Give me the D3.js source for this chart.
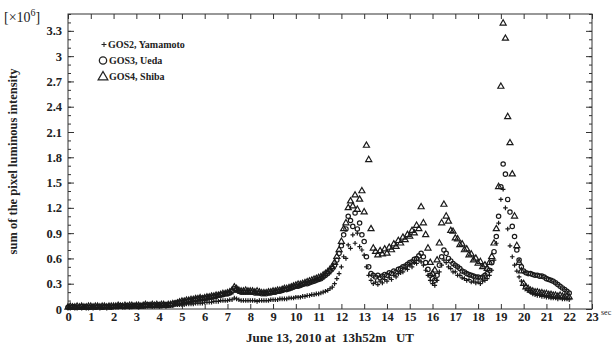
<!doctype html>
<html lang="en">
<head>
<meta charset="utf-8">
<title>Luminous intensity, June 13 2010</title>
<script src="https://d3js.org/d3.v7.min.js"></script>
<style>
body { margin: 0; background: #fff; }
svg { display: block; }
text { font-family: 'Liberation Serif', 'DejaVu Serif', serif; fill: #222; }
.tick text { font-size: 12.5px; font-weight: bold; }
.tick line { stroke: #333; stroke-width: 1; }
.frame { fill: none; stroke: #333; stroke-width: 1; }
.pt { fill: none; stroke: #1a1a1a; stroke-width: 1.2; }
.legend text { font-size: 10px; font-weight: bold; }
.label { font-size: 12.5px; font-weight: bold; }
</style>
</head>
<body>
<svg width="615" height="348"></svg>
<script>
// samples every 0.1 s from 0 to 22 s
const sampleStep = 0.1;

// GOS2, Yamamoto (+)
const gos2 = [
  0.01,0.01,0.02,0.01,0.01,0.02,0.01,0.02,0.01,0.01,
  0.02,0.01,0.02,0.02,0.01,0.02,0.02,0.01,0.02,0.02,
  0.02,0.02,0.02,0.03,0.02,0.02,0.03,0.02,0.03,0.03,
  0.03,0.02,0.03,0.03,0.03,0.03,0.04,0.03,0.03,0.04,
  0.03,0.04,0.04,0.03,0.04,0.04,0.04,0.05,0.05,0.05,
  0.05,0.05,0.06,0.06,0.06,0.06,0.07,0.07,0.07,0.07,
  0.08,0.08,0.08,0.08,0.09,0.09,0.09,0.10,0.10,0.10,
  0.10,0.11,0.11,0.13,0.12,0.11,0.10,0.10,0.10,0.10,
  0.10,0.10,0.10,0.09,0.10,0.10,0.10,0.10,0.10,0.11,
  0.11,0.11,0.11,0.12,0.12,0.12,0.12,0.13,0.13,0.13,
  0.14,0.14,0.14,0.15,0.15,0.16,0.16,0.17,0.17,0.18,
  0.18,0.19,0.20,0.21,0.22,0.24,0.26,0.30,0.36,0.42,
  0.50,0.62,0.60,0.76,0.72,0.88,0.78,0.90,0.74,0.70,
  0.64,0.50,0.40,0.34,0.30,0.32,0.29,0.33,0.31,0.35,
  0.33,0.37,0.35,0.40,0.38,0.42,0.43,0.44,0.48,0.47,
  0.52,0.50,0.55,0.54,0.58,0.56,0.52,0.46,0.40,0.34,
  0.30,0.28,0.34,0.44,0.52,0.58,0.55,0.50,0.48,0.44,
  0.44,0.40,0.40,0.37,0.36,0.34,0.35,0.32,0.33,0.31,
  0.32,0.30,0.33,0.34,0.36,0.40,0.46,0.58,0.78,1.02,
  1.30,1.42,1.20,0.95,0.75,0.62,0.52,0.45,0.38,0.33,
  0.28,0.24,0.22,0.20,0.18,0.17,0.16,0.16,0.15,0.15,
  0.14,0.14,0.13,0.13,0.13,0.12,0.13,0.12,0.12,0.12,
  0.11
];

// GOS3, Ueda (circle)
const gos3 = [
  0.02,0.02,0.03,0.02,0.02,0.02,0.03,0.02,0.03,0.02,
  0.02,0.03,0.02,0.03,0.03,0.02,0.03,0.03,0.03,0.02,
  0.03,0.03,0.03,0.04,0.03,0.03,0.04,0.03,0.03,0.04,
  0.04,0.03,0.04,0.04,0.04,0.05,0.04,0.04,0.05,0.04,
  0.05,0.04,0.05,0.05,0.05,0.05,0.06,0.07,0.07,0.08,
  0.08,0.09,0.09,0.10,0.10,0.11,0.11,0.12,0.12,0.13,
  0.13,0.13,0.14,0.14,0.15,0.15,0.16,0.17,0.17,0.18,
  0.18,0.19,0.21,0.24,0.23,0.21,0.20,0.20,0.20,0.20,
  0.20,0.20,0.19,0.19,0.19,0.18,0.18,0.18,0.19,0.19,
  0.20,0.20,0.21,0.21,0.22,0.23,0.23,0.24,0.25,0.26,
  0.27,0.27,0.28,0.29,0.30,0.30,0.31,0.32,0.33,0.34,
  0.35,0.36,0.38,0.40,0.42,0.45,0.48,0.52,0.58,0.66,
  0.75,0.88,0.95,1.10,1.05,0.98,1.14,0.95,1.02,0.88,
  0.80,0.62,0.50,0.42,0.40,0.38,0.40,0.37,0.39,0.41,
  0.40,0.43,0.42,0.45,0.44,0.47,0.48,0.50,0.51,0.53,
  0.55,0.56,0.59,0.60,0.63,0.66,0.62,0.55,0.47,0.40,
  0.36,0.34,0.40,0.52,0.62,0.70,0.66,0.60,0.57,0.54,
  0.52,0.50,0.48,0.45,0.44,0.42,0.41,0.40,0.39,0.38,
  0.38,0.37,0.38,0.40,0.42,0.46,0.55,0.68,0.86,1.10,
  1.45,1.72,1.60,1.30,1.15,0.98,0.86,0.70,0.58,0.50,
  0.45,0.43,0.42,0.42,0.41,0.40,0.40,0.39,0.39,0.38,
  0.36,0.35,0.34,0.33,0.31,0.29,0.27,0.25,0.23,0.21,
  0.19
];

// GOS4, Shiba (triangle)
const gos4 = [
  0.02,0.03,0.02,0.02,0.03,0.02,0.03,0.02,0.02,0.03,
  0.03,0.02,0.03,0.03,0.02,0.03,0.03,0.02,0.03,0.03,
  0.03,0.03,0.04,0.03,0.03,0.04,0.03,0.04,0.04,0.03,
  0.04,0.04,0.03,0.04,0.05,0.04,0.04,0.05,0.04,0.05,
  0.04,0.05,0.05,0.04,0.05,0.05,0.06,0.06,0.07,0.08,
  0.09,0.09,0.10,0.10,0.11,0.11,0.12,0.12,0.13,0.12,
  0.13,0.14,0.14,0.15,0.15,0.16,0.16,0.17,0.18,0.18,
  0.19,0.20,0.22,0.26,0.24,0.22,0.21,0.21,0.22,0.21,
  0.21,0.21,0.20,0.21,0.20,0.19,0.19,0.19,0.20,0.20,
  0.21,0.21,0.22,0.22,0.23,0.24,0.24,0.25,0.26,0.27,
  0.28,0.29,0.29,0.30,0.31,0.32,0.33,0.34,0.35,0.36,
  0.37,0.38,0.40,0.42,0.44,0.47,0.50,0.55,0.62,0.70,
  0.80,0.95,1.02,1.20,1.28,1.22,1.35,1.18,1.30,1.40,
  1.15,1.94,1.77,0.95,0.72,0.68,0.64,0.69,0.65,0.71,
  0.66,0.73,0.70,0.77,0.74,0.81,0.78,0.85,0.82,0.88,
  0.86,0.93,0.90,0.99,0.95,1.21,1.02,0.88,0.72,0.55,
  0.42,0.46,0.58,0.78,1.02,1.24,1.10,1.04,0.93,0.92,
  0.84,0.83,0.76,0.77,0.70,0.71,0.64,0.65,0.58,0.60,
  0.54,0.56,0.50,0.52,0.48,0.55,0.62,0.78,0.95,1.45,
  2.64,3.39,3.21,2.28,1.97,1.60,1.10,0.75,0.55,0.45,
  0.30,0.26,0.24,0.22,0.21,0.20,0.20,0.19,0.19,0.18,
  0.18,0.17,0.17,0.16,0.16,0.15,0.16,0.15,0.14,0.15,
  0.14
];

const xTicks = [0,1,2,3,4,5,6,7,8,9,10,11,12,13,14,15,16,17,18,19,20,21,22,23];
const yTicks = [0,0.3,0.6,0.9,1.2,1.5,1.8,2.1,2.4,2.7,3,3.3];
const yTickLabels = ['0','0.3','0.6','0.9','1.2','1.5','1.8','2.1','2.4','2.7','3','3.3'];
const yMinor = [0,0.1,0.2,0.3,0.4,0.5,0.6,0.7,0.8,0.9,1,1.1,1.2,1.3,1.4,1.5,1.6,1.7,1.8,1.9,
  2,2.1,2.2,2.3,2.4,2.5,2.6,2.7,2.8,2.9,3,3.1,3.2,3.3,3.4,3.5];
const seriesNames = ['GOS2, Yamamoto', 'GOS3, Ueda', 'GOS4, Shiba'];

const svg = d3.select('svg');
const plotLeft = 68, plotRight = 592, plotTop = 14, plotBottom = 309;

const x = d3.scaleLinear().domain([0, 23]).range([plotLeft, plotRight]);
const y = d3.scaleLinear().domain([0, 3.5]).range([plotBottom, plotTop]);

// axes (ticks drawn inward)
svg.append('g')
  .attr('transform', `translate(${plotLeft},0)`)
  .call(d3.axisLeft(y).tickValues(yMinor).tickSize(-3).tickFormat(''))
  .call(g => g.select('.domain').remove());
svg.append('g')
  .attr('transform', `translate(${plotLeft},0)`)
  .call(d3.axisLeft(y).tickValues(yTicks).tickSize(-6).tickPadding(6)
    .tickFormat((d, i) => yTickLabels[i]))
  .call(g => g.select('.domain').remove());
svg.append('g')
  .attr('transform', `translate(${plotRight},0)`)
  .call(d3.axisRight(y).tickValues(yMinor).tickSize(-3).tickFormat(''))
  .call(g => g.select('.domain').remove());
svg.append('g')
  .attr('transform', `translate(${plotRight},0)`)
  .call(d3.axisRight(y).tickValues(yTicks).tickSize(-6).tickFormat(''))
  .call(g => g.select('.domain').remove());
svg.append('g')
  .attr('transform', `translate(0,${plotBottom})`)
  .call(d3.axisBottom(x).tickValues(xTicks).tickSize(-5).tickPadding(3).tickFormat(d3.format('d')))
  .call(g => g.select('.domain').remove());
svg.append('g')
  .attr('transform', `translate(0,${plotTop})`)
  .call(d3.axisTop(x).tickValues(xTicks).tickSize(-5).tickFormat(''))
  .call(g => g.select('.domain').remove());

svg.append('rect').attr('class', 'frame')
  .attr('x', plotLeft).attr('y', plotTop)
  .attr('width', plotRight - plotLeft).attr('height', plotBottom - plotTop);

// markers
const plusPath = s => `M${-s},0H${s}M0,${-s}V${s}`;
const circlePath = d3.symbol().type(d3.symbolCircle).size(15)();
const triPath = d3.symbol().type(d3.symbolTriangle).size(16)();

const plot = svg.append('g');
function drawSeries(values, path) {
  plot.append('g').selectAll('path')
    .data(values)
    .join('path')
    .attr('class', 'pt')
    .attr('d', path)
    .attr('transform', (d, i) => `translate(${x(i * sampleStep)},${y(d)})`);
}
drawSeries(gos2, plusPath(2.3));
drawSeries(gos3, circlePath);
drawSeries(gos4, triPath);

// legend
const legend = svg.append('g').attr('class', 'legend');
const legendY = [48, 64, 80];
legend.append('path').attr('d', plusPath(2.5))
  .attr('transform', `translate(104,${legendY[0] - 3.5})`)
  .attr('stroke', '#222').attr('fill', 'none');
legend.append('path').attr('d', d3.symbol().type(d3.symbolCircle).size(42)())
  .attr('transform', `translate(103,${legendY[1] - 3.5})`)
  .attr('stroke', '#222').attr('stroke-width', 1.3).attr('fill', 'none');
legend.append('path').attr('d', d3.symbol().type(d3.symbolTriangle).size(40)())
  .attr('transform', `translate(103,${legendY[2] - 3})`)
  .attr('stroke', '#222').attr('stroke-width', 1.3).attr('fill', 'none');
legend.selectAll('text')
  .data(seriesNames)
  .join('text')
  .attr('x', (d, i) => i === 0 ? 108 : 109)
  .attr('y', (d, i) => legendY[i])
  .text(d => d);

// labels
svg.append('text')
  .attr('class', 'label')
  .attr('transform', `translate(17,${(plotTop + plotBottom) / 2}) rotate(-90)`)
  .attr('text-anchor', 'middle')
  .text('sum of the pixel luminous intensity');

const unit = svg.append('text')
  .attr('x', 4).attr('y', 22)
  .style('font-size', '14px');
unit.append('tspan').text('[\u00d710');
unit.append('tspan').attr('dy', -6).style('font-size', '10px').text('6');
unit.append('tspan').attr('dy', 6).text(']');

svg.append('text')
  .attr('class', 'label')
  .attr('x', 330).attr('y', 342)
  .attr('text-anchor', 'middle')
  .style('font-size', '13px')
  .style('white-space', 'pre')
  .text('June 13, 2010 at  13h52m   UT');

svg.append('text')
  .attr('x', 601).attr('y', 315)
  .style('font-size', '8px')
  .text('sec');
</script>
</body>
</html>
